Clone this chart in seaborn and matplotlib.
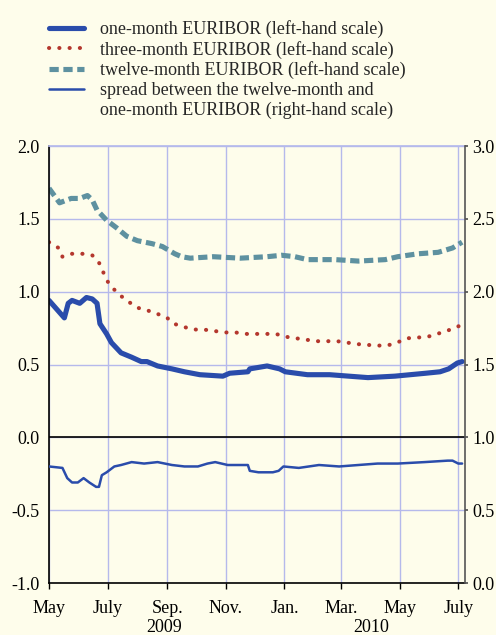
import pandas as pd
import seaborn as sns
import matplotlib.pyplot as plt
import matplotlib.dates as mdates
from matplotlib.lines import Line2D

# one-month EURIBOR (left-hand scale)
one_month_dates = ['2009-05-01', '2009-05-17', '2009-05-21', '2009-05-25', '2009-06-02',
                   '2009-06-09', '2009-06-15', '2009-06-20', '2009-06-23', '2009-06-30',
                   '2009-07-05', '2009-07-15', '2009-07-26', '2009-08-05', '2009-08-11',
                   '2009-08-22', '2009-09-06', '2009-09-19', '2009-10-05', '2009-10-29',
                   '2009-11-05', '2009-11-24', '2009-11-26', '2009-12-14', '2009-12-27',
                   '2010-01-02', '2010-01-25', '2010-02-17', '2010-03-29', '2010-04-26',
                   '2010-05-28', '2010-06-12', '2010-06-21', '2010-06-30', '2010-07-05']
one_month = [0.94, 0.82, 0.92, 0.94, 0.92,
             0.96, 0.95, 0.92, 0.78, 0.71,
             0.65, 0.58, 0.55, 0.52, 0.52,
             0.49, 0.47, 0.45, 0.43, 0.42,
             0.44, 0.45, 0.47, 0.49, 0.47,
             0.45, 0.43, 0.43, 0.41, 0.42,
             0.44, 0.45, 0.47, 0.51, 0.52]

# three-month EURIBOR (left-hand scale)
three_month_dates = ['2009-05-01', '2009-05-11', '2009-05-15', '2009-05-25', '2009-06-05',
                     '2009-06-15', '2009-06-22', '2009-06-26', '2009-07-01', '2009-07-07',
                     '2009-07-15', '2009-07-23', '2009-08-01', '2009-08-12', '2009-08-21',
                     '2009-09-01', '2009-09-08', '2009-09-17', '2009-09-29', '2009-10-09',
                     '2009-10-20', '2009-11-01', '2009-11-11', '2009-11-23', '2009-12-13',
                     '2009-12-23', '2010-01-03', '2010-01-13', '2010-01-24', '2010-02-03',
                     '2010-02-25', '2010-03-18', '2010-04-07', '2010-04-18', '2010-04-28',
                     '2010-05-09', '2010-05-30', '2010-06-09', '2010-06-19', '2010-06-30',
                     '2010-07-05']
three_month = [1.34, 1.30, 1.24, 1.26, 1.26,
               1.25, 1.20, 1.14, 1.07, 1.02,
               0.97, 0.93, 0.89, 0.87, 0.85,
               0.82, 0.78, 0.76, 0.74, 0.74,
               0.73, 0.72, 0.72, 0.71, 0.71,
               0.71, 0.69, 0.68, 0.67, 0.66,
               0.66, 0.64, 0.63, 0.63, 0.65,
               0.68, 0.69, 0.71, 0.73, 0.76,
               0.77]

# twelve-month EURIBOR (left-hand scale)
twelve_month_dates = ['2009-05-01', '2009-05-12', '2009-05-24', '2009-06-02', '2009-06-10',
                      '2009-06-15', '2009-06-20', '2009-06-30', '2009-07-10', '2009-07-21',
                      '2009-08-01', '2009-08-16', '2009-08-27', '2009-09-09', '2009-09-16',
                      '2009-09-25', '2009-10-19', '2009-11-16', '2009-12-14', '2009-12-29',
                      '2010-01-12', '2010-01-25', '2010-02-07', '2010-02-23', '2010-03-19',
                      '2010-04-16', '2010-04-29', '2010-05-20', '2010-06-10', '2010-06-25',
                      '2010-07-05']
twelve_month = [1.71, 1.61, 1.64, 1.64, 1.66,
                1.63, 1.56, 1.49, 1.44, 1.38,
                1.35, 1.33, 1.31, 1.26, 1.24,
                1.23, 1.24, 1.23, 1.24, 1.25,
                1.24, 1.22, 1.22, 1.22, 1.21,
                1.22, 1.24, 1.26, 1.27, 1.30,
                1.34]

# spread between twelve-month and one-month (right-hand scale)
spread_dates = ['2009-05-01', '2009-05-15', '2009-05-20', '2009-05-25', '2009-05-31',
                '2009-06-06', '2009-06-12', '2009-06-19', '2009-06-22', '2009-06-25',
                '2009-06-30', '2009-07-08', '2009-07-15', '2009-07-26', '2009-08-08',
                '2009-08-22', '2009-09-06', '2009-09-19', '2009-10-03', '2009-10-13',
                '2009-10-21', '2009-11-03', '2009-11-24', '2009-11-26', '2009-12-05',
                '2009-12-20', '2009-12-26', '2009-12-31', '2010-01-16', '2010-02-06',
                '2010-02-27', '2010-03-19', '2010-04-08', '2010-04-29', '2010-05-27',
                '2010-06-20', '2010-06-25', '2010-07-01', '2010-07-05']
spread = [0.80, 0.79, 0.72, 0.69, 0.69,
          0.72, 0.69, 0.66, 0.66, 0.74,
          0.76, 0.80, 0.81, 0.83, 0.82,
          0.83, 0.81, 0.80, 0.80, 0.82,
          0.83, 0.81, 0.81, 0.77, 0.76,
          0.76, 0.77, 0.80, 0.79, 0.81,
          0.80, 0.81, 0.82, 0.82, 0.83,
          0.84, 0.84, 0.82, 0.82]

tick_dates = ['2009-05-01', '2009-07-01', '2009-09-01', '2009-11-01',
              '2010-01-01', '2010-03-01', '2010-05-01', '2010-07-01']
tick_labels = ['May', 'July', 'Sep.', 'Nov.', 'Jan.', 'Mar.', 'May', 'July']

labels = ['one-month EURIBOR (left-hand scale)',
          'three-month EURIBOR (left-hand scale)',
          'twelve-month EURIBOR (left-hand scale)',
          'spread between the twelve-month and',
          'one-month EURIBOR (right-hand scale)']

bg = '#fefdeb'
blue = '#2a4cab'
red = '#b4372d'
teal = '#5e91a0'
gridc = '#b5b9eb'
fs = 13

sns.set_theme(style='white')
plt.rcParams['font.family'] = ['Liberation Serif', 'DejaVu Serif']
plt.rcParams['font.size'] = fs
plt.rcParams['axes.unicode_minus'] = False

fig = plt.figure(figsize=(4.96, 6.35), dpi=100, facecolor=bg)
ax = fig.add_axes([49 / 496, 52 / 635, 416 / 496, 437 / 635])
ax.set_facecolor(bg)
ax2 = ax.twinx()

dashed = (0, (1.8, 0.9))
dotted = (0, (0.05, 2.5))

sns.lineplot(x=pd.to_datetime(twelve_month_dates), y=twelve_month, ax=ax,
             color=teal, linewidth=3.7, linestyle=dashed)
sns.lineplot(x=pd.to_datetime(three_month_dates), y=three_month, ax=ax,
             color=red, linewidth=2.9, linestyle=dotted, dash_capstyle='round')
sns.lineplot(x=pd.to_datetime(one_month_dates), y=one_month, ax=ax,
             color=blue, linewidth=3.7, solid_capstyle='round')
sns.lineplot(x=pd.to_datetime(spread_dates), y=spread, ax=ax2,
             color=blue, linewidth=1.8)

ax.axhline(0, color='black', linewidth=1.2, zorder=3)

ax.set_xlim(pd.Timestamp('2009-05-01'), pd.Timestamp('2010-07-08'))
ax.set_ylim(-1, 2)
ax2.set_ylim(0, 3)

ax.set_xticks(pd.to_datetime(tick_dates))
ax.set_xticklabels(tick_labels)
ax.set_yticks([-1, -0.5, 0, 0.5, 1, 1.5, 2])
ax.set_yticklabels(['-1.0', '-0.5', '0.0', '0.5', '1.0', '1.5', '2.0'])
ax2.set_yticks([0, 0.5, 1, 1.5, 2, 2.5, 3])
ax2.set_yticklabels(['0.0', '0.5', '1.0', '1.5', '2.0', '2.5', '3.0'])

ax.grid(True, color=gridc, linewidth=1)
ax2.grid(False)
ax.set_xlabel('')
ax.set_ylabel('')
ax2.set_ylabel('')

ax.tick_params(axis='x', bottom=True, length=4, width=1, color='black', pad=8.5,
               labelsize=fs, labelcolor='black')
ax.tick_params(axis='y', left=False, length=0, pad=6.5, labelsize=fs, labelcolor='black')
ax2.tick_params(axis='y', right=True, length=2, color='#555555', pad=3,
                labelsize=fs, labelcolor='black')

for s in ['left', 'bottom']:
    ax.spines[s].set_color('black')
    ax.spines[s].set_linewidth(1.2)
ax.spines['top'].set_color(gridc)
ax.spines['right'].set_visible(False)
for s in ['left', 'top', 'bottom']:
    ax2.spines[s].set_visible(False)
ax2.spines['right'].set_color('#555555')
ax2.spines['right'].set_linewidth(1.2)

xt = ax.get_xaxis_transform()
ax.text(mdates.date2num(pd.Timestamp('2009-08-29')), -0.111, '2009', transform=xt,
        ha='center', va='baseline', fontsize=fs, color='black')
ax.text(mdates.date2num(pd.Timestamp('2010-04-01')), -0.111, '2010', transform=xt,
        ha='center', va='baseline', fontsize=fs, color='black')

handles = [Line2D([], [], color=blue, linewidth=3.7),
           Line2D([], [], color=red, linewidth=2.9, linestyle=dotted, dash_capstyle='round'),
           Line2D([], [], color=teal, linewidth=3.7, linestyle=dashed),
           Line2D([], [], color=blue, linewidth=1.8),
           Line2D([], [], color='none')]
fig.legend(handles, labels, loc='upper left', bbox_to_anchor=(49 / 496, 1 - 20 / 635),
           frameon=False, fontsize=fs, handlelength=1.95, handletextpad=0.85,
           labelspacing=0.15, borderpad=0, borderaxespad=0)

fig.savefig('out.png', dpi=100, facecolor=bg)
